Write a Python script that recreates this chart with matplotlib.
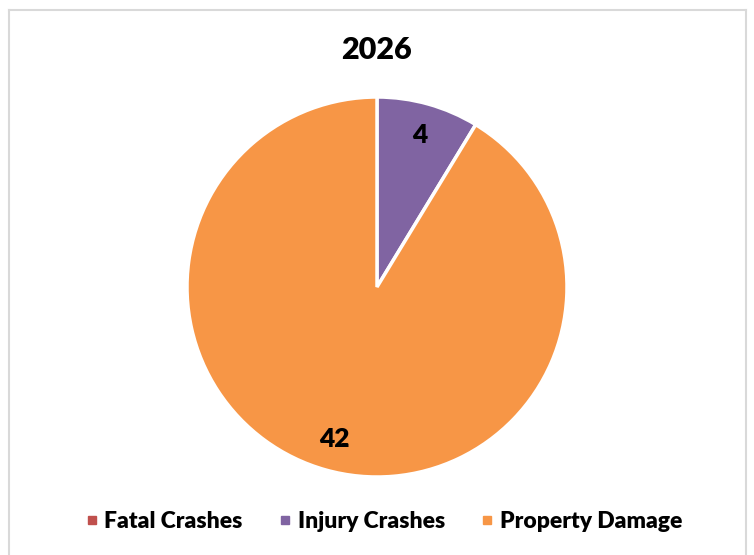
import matplotlib.pyplot as plt
from matplotlib.lines import Line2D

# data
title = "2026"
categories = ["Fatal Crashes", "Injury Crashes", "Property Damage"]
values = [0, 4, 42]
colors = ["#C0504D", "#8064A2", "#F79646"]

plt.rcParams['font.family'] = ['Lato', 'DejaVu Sans']

fig = plt.figure(figsize=(7.54, 5.55), dpi=100)

# pie axes centred at about (377, 287) px with radius ~190 px
W, H = 754, 555
r = 190
cx, cy = 377, H - 287
ax = fig.add_axes([(cx - r) / W, (cy - r) / H, 2 * r / W, 2 * r / H])


def fmt(pct):
    v = int(round(pct * sum(values) / 100.0))
    return str(v) if v > 0 else ""


wedges, texts, autotexts = ax.pie(
    values, colors=colors, startangle=90, counterclock=False,
    radius=1.0, autopct=fmt, pctdistance=0.83,
    wedgeprops=dict(edgecolor="white", linewidth=2.5),
    textprops=dict(fontsize=19, fontweight="heavy", color="black"),
)
ax.set_xlim(-1, 1)
ax.set_ylim(-1, 1)
ax.set_aspect("equal")
ax.axis("off")

fig.text(cx / W, (H - 50) / H, title, ha="center", va="center",
         fontsize=22, fontweight="heavy")

handles = [Line2D([0], [0], marker="s", linestyle="none", markersize=6,
                  markerfacecolor=c, markeredgecolor=c) for c in colors]
fig.legend(handles, categories, loc="center", ncol=3, frameon=False,
           bbox_to_anchor=(384 / W, (H - 522) / H),
           prop=dict(size=16.5, weight="heavy"),
           handlelength=0.5, handletextpad=0.3, columnspacing=1.6)

# light grey chart border (left, top, right)
bc = "#D9D9D9"
fig.add_artist(Line2D([9 / W, 9 / W], [0, (H - 9.5) / H], color=bc, lw=1.5))
fig.add_artist(Line2D([9 / W, 746 / W], [(H - 9.5) / H, (H - 9.5) / H], color=bc, lw=1.5))
fig.add_artist(Line2D([746 / W, 746 / W], [0, (H - 9.5) / H], color=bc, lw=1.5))

fig.savefig("out.png", dpi=100)
